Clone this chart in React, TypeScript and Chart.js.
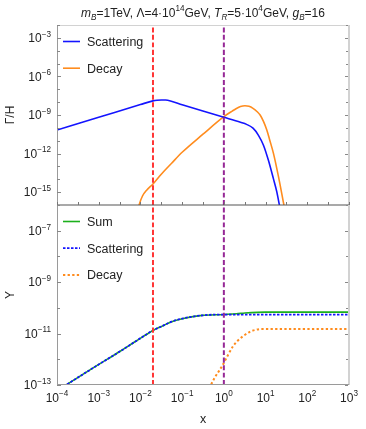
import React, { useEffect, useRef } from 'react';
import { Chart, registerables } from 'chart.js';

Chart.register(...registerables);

const FONT = '"Liberation Sans", Arial, Helvetica, sans-serif';

const BLUE = '#1414ff';
const ORANGE = '#ff8c1e';
const GREEN = '#1cb01c';
const RED = '#ff3535';
const PURPLE = '#962896';

// axis ranges
const X_MIN = 1e-4;
const X_MAX = 1e3;
const TOP_Y_MIN = 1e-16;
const TOP_Y_MAX = 1e-2;
const BOT_Y_MIN = 1e-13;
const BOT_Y_MAX = 1e-6;

// tick labels (decade exponents)
const xLabelExps = [-4, -3, -2, -1, 0, 1, 2, 3];
const topYLabelExps = [-15, -12, -9, -6, -3];
const botYLabelExps = [-13, -11, -9, -7];

// vertical marker positions
const markerRedX = 0.02;
const markerPurpleX = 1;

// Top panel: Γ/H, scattering
const rateScatterX = [1e-4, 1e-3, 1e-2, 0.02, 0.025, 0.032, 0.04, 0.05, 0.1, 0.3, 1, 2.5, 3.5, 5, 6.7, 8.9, 11.7, 15.4, 18.6, 21.4, 22.5];
const rateScatterY = [6.8e-11, 6.6e-10, 6.5e-9, 1.26e-8, 1.41e-8, 1.48e-8, 1.45e-8, 1.3e-8, 6.3e-9, 2.1e-9, 6.6e-10, 2.7e-10, 1.86e-10, 9.5e-11, 2.75e-11, 4.5e-12, 3.0e-13, 1.12e-14, 1.05e-15, 1e-16, 4e-17];

// Top panel: Γ/H, decay
const rateDecayX = [0.0089, 0.0093, 0.0112, 0.0141, 0.02, 0.0316, 0.056, 0.1, 0.316, 1, 1.58, 2.0, 2.5, 3.2, 4.0, 5.0, 6.3, 7.4, 8.9, 10.7, 12.6, 15.5, 20.4, 27.5, 29];
const rateDecayY = [5e-17, 1e-16, 5e-16, 1.41e-15, 4.3e-15, 2.5e-14, 1.78e-13, 1.26e-12, 3.2e-11, 7.4e-10, 2.0e-9, 3.2e-9, 4.5e-9, 5.2e-9, 4.7e-9, 3.3e-9, 1.8e-9, 1e-9, 3.2e-10, 6.8e-11, 1.1e-11, 1e-12, 1.6e-14, 1e-16, 4e-17];

// Bottom panel: Y
const yieldScatterX = [1e-4, 1e-3, 3.2e-3, 7.4e-3, 0.02, 0.032, 0.056, 0.1, 0.27, 1, 10, 1000];
const yieldScatterY = [6.0e-14, 6.3e-13, 2.0e-12, 4.8e-12, 1.32e-11, 1.9e-11, 2.9e-11, 3.8e-11, 5.0e-11, 5.5e-11, 5.5e-11, 5.5e-11];

const yieldSumX = [1e-4, 1e-3, 3.2e-3, 7.4e-3, 0.02, 0.032, 0.056, 0.1, 0.27, 1, 2, 3.2, 6.3, 10, 1000];
const yieldSumY = [6.0e-14, 6.3e-13, 2.0e-12, 4.8e-12, 1.32e-11, 1.9e-11, 2.9e-11, 3.8e-11, 5.0e-11, 5.55e-11, 5.9e-11, 6.3e-11, 6.7e-11, 6.8e-11, 6.8e-11];

const yieldDecayX = [0.4, 0.49, 0.6, 0.79, 1, 1.26, 1.66, 2.24, 2.9, 4.2, 5.6, 7.9, 1000];
const yieldDecayY = [5e-14, 1e-13, 1.9e-13, 3.8e-13, 7.2e-13, 1.48e-12, 3.2e-12, 5.6e-12, 7.9e-12, 1.17e-11, 1.38e-11, 1.5e-11, 1.5e-11];

type Seg = { t: string; i?: boolean; s?: 'sub' | 'sup' };

function segFont(seg: Seg, base: number) {
  const size = seg.s ? base * 0.68 : base;
  return `${seg.i ? 'italic ' : ''}${size}px ${FONT}`;
}

function drawRich(ctx: CanvasRenderingContext2D, segs: Seg[], x: number, y: number, base: number, align: 'left' | 'center' | 'right') {
  let w = 0;
  for (const s of segs) {
    ctx.font = segFont(s, base);
    w += ctx.measureText(s.t).width;
  }
  let cx = align === 'center' ? x - w / 2 : align === 'right' ? x - w : x;
  ctx.textAlign = 'left';
  ctx.textBaseline = 'alphabetic';
  for (const s of segs) {
    ctx.font = segFont(s, base);
    const dy = s.s === 'sup' ? -base * 0.45 : s.s === 'sub' ? base * 0.25 : 0;
    ctx.fillText(s.t, cx, y + dy);
    cx += ctx.measureText(s.t).width;
  }
}

function expLabel(e: number): Seg[] {
  return [{ t: '10' }, { t: (e < 0 ? '\u2212' : '') + Math.abs(e), s: 'sup' }];
}

const titleSegs: Seg[] = [
  { t: 'm', i: true }, { t: 'B', i: true, s: 'sub' }, { t: '=1TeV, \u039B=4\u00B710' }, { t: '14', s: 'sup' },
  { t: 'GeV, ' }, { t: 'T', i: true }, { t: 'R', i: true, s: 'sub' }, { t: '=5\u00B710' }, { t: '4', s: 'sup' },
  { t: 'GeV, ' }, { t: 'g', i: true }, { t: 'B', i: true, s: 'sub' }, { t: '=16' },
];

type LegendEntry = { label: string; color: string; dash: number[]; width: number };

const topLegend: LegendEntry[] = [
  { label: 'Scattering', color: BLUE, dash: [], width: 1.6 },
  { label: 'Decay', color: ORANGE, dash: [], width: 1.6 },
];
const botLegend: LegendEntry[] = [
  { label: 'Sum', color: GREEN, dash: [], width: 1.6 },
  { label: 'Scattering', color: BLUE, dash: [2.5, 1.5], width: 1.8 },
  { label: 'Decay', color: ORANGE, dash: [2.3, 2.3], width: 2 },
];

function zip(xs: number[], ys: number[]) {
  return xs.map((x, i) => ({ x, y: ys[i] }));
}

function makeDecor(panel: 'top' | 'bottom') {
  return {
    id: 'decor_' + panel,
    afterDraw(chart: any) {
      const ctx: CanvasRenderingContext2D = chart.ctx;
      const { left, right, top, bottom } = chart.chartArea;
      const xs = chart.scales.x;
      const ys = chart.scales.y;
      const yMinExp = panel === 'top' ? -16 : -13;
      const yMaxExp = panel === 'top' ? -2 : -6;
      const labelExps = panel === 'top' ? topYLabelExps : botYLabelExps;
      ctx.save();

      // frame
      ctx.lineWidth = 1;
      ctx.strokeStyle = '#9a9a9a';
      ctx.beginPath();
      ctx.moveTo(left + 0.5, top);
      ctx.lineTo(left + 0.5, bottom);
      ctx.stroke();
      ctx.strokeStyle = '#d2d2d2';
      ctx.lineWidth = 2;
      ctx.beginPath();
      ctx.moveTo(right, top);
      ctx.lineTo(right, bottom);
      ctx.stroke();
      if (panel === 'top') {
        ctx.strokeStyle = '#d2d2d2';
        ctx.lineWidth = 1;
        ctx.beginPath();
        ctx.moveTo(left, top + 0.5);
        ctx.lineTo(right, top + 0.5);
        ctx.stroke();
        ctx.strokeStyle = '#555555';
        ctx.lineWidth = 1.2;
        ctx.beginPath();
        ctx.moveTo(left, bottom);
        ctx.lineTo(right, bottom);
        ctx.stroke();
        // x ticks on the middle line, every half decade
        ctx.strokeStyle = '#777777';
        ctx.lineWidth = 1;
        for (let k = -8; k <= 6; k++) {
          const px = Math.round(xs.getPixelForValue(Math.pow(10, k / 2))) + 0.5;
          ctx.beginPath();
          ctx.moveTo(px, bottom);
          ctx.lineTo(px, bottom - 3);
          ctx.stroke();
        }
      } else {
        ctx.strokeStyle = '#9a9a9a';
        ctx.lineWidth = 1;
        ctx.beginPath();
        ctx.moveTo(left, bottom - 0.5);
        ctx.lineTo(right, bottom - 0.5);
        ctx.stroke();
      }

      // y ticks
      ctx.strokeStyle = '#888888';
      ctx.lineWidth = 1;
      for (let e = yMinExp; e <= yMaxExp; e++) {
        const py = Math.round(ys.getPixelForValue(Math.pow(10, e))) + 0.5;
        const major = labelExps.indexOf(e) >= 0;
        ctx.beginPath();
        ctx.moveTo(left, py);
        ctx.lineTo(left + (major ? 4 : 3), py);
        ctx.moveTo(right - 1, py);
        ctx.lineTo(right - 1 - (major ? 3 : 2), py);
        ctx.stroke();
      }

      // y tick labels
      ctx.fillStyle = '#222222';
      for (const e of labelExps) {
        const py = ys.getPixelForValue(Math.pow(10, e));
        drawRich(ctx, expLabel(e), left - 6, py + 4.3, 12, 'right');
      }

      // y axis title
      ctx.save();
      ctx.translate(11, (top + bottom) / 2);
      ctx.rotate(-Math.PI / 2);
      ctx.font = `12px ${FONT}`;
      ctx.textAlign = 'center';
      ctx.textBaseline = 'middle';
      ctx.fillText(panel === 'top' ? '\u0393/H' : 'Y', 0, 0);
      ctx.restore();

      if (panel === 'top') {
        drawRich(ctx, titleSegs, (left + right) / 2, 16.7, 12, 'center');
      } else {
        for (const e of xLabelExps) {
          const px = xs.getPixelForValue(Math.pow(10, e));
          drawRich(ctx, expLabel(e), px, bottom + 16.7, 12, 'center');
        }
        ctx.font = `12.5px ${FONT}`;
        ctx.textAlign = 'center';
        ctx.textBaseline = 'alphabetic';
        ctx.fillText('x', (left + right) / 2, bottom + 38);
      }

      // legend
      const entries = panel === 'top' ? topLegend : botLegend;
      entries.forEach((en, i) => {
        const ly = top + 16.5 + i * 26.7;
        ctx.strokeStyle = en.color;
        ctx.lineWidth = en.width;
        ctx.setLineDash(en.dash);
        ctx.beginPath();
        ctx.moveTo(left + 6, ly);
        ctx.lineTo(left + 23, ly);
        ctx.stroke();
        ctx.setLineDash([]);
        ctx.fillStyle = '#222222';
        ctx.font = `12.5px ${FONT}`;
        ctx.textAlign = 'left';
        ctx.textBaseline = 'alphabetic';
        ctx.fillText(en.label, left + 30, ly + 4.5);
      });

      ctx.restore();
    },
  };
}

function baseOptions(yMin: number, yMax: number, padding: any) {
  return {
    responsive: false,
    animation: false as const,
    devicePixelRatio: 1,
    layout: { padding },
    plugins: { legend: { display: false }, tooltip: { enabled: false }, title: { display: false } },
    elements: { point: { radius: 0 }, line: { cubicInterpolationMode: 'monotone' as const } },
    scales: {
      x: { type: 'logarithmic' as const, min: X_MIN, max: X_MAX, display: false },
      y: { type: 'logarithmic' as const, min: yMin, max: yMax, display: false },
    },
  };
}

function vline(x: number, yMin: number, yMax: number, color: string) {
  return {
    data: [{ x, y: yMin }, { x, y: yMax }],
    borderColor: color,
    borderWidth: 2,
    borderDash: [5, 2.5],
    pointRadius: 0,
    fill: false,
    clip: 0,
  };
}

export default function App() {
  const topRef = useRef<HTMLCanvasElement>(null);
  const botRef = useRef<HTMLCanvasElement>(null);

  useEffect(() => {
    const topChart = new Chart(topRef.current as HTMLCanvasElement, {
      type: 'line',
      data: {
        datasets: [
          vline(markerRedX, TOP_Y_MIN, TOP_Y_MAX, RED),
          vline(markerPurpleX, TOP_Y_MIN, TOP_Y_MAX, PURPLE),
          { label: 'Scattering', data: zip(rateScatterX, rateScatterY), borderColor: BLUE, borderWidth: 1.6, pointRadius: 0, fill: false, clip: 0 },
          { label: 'Decay', data: zip(rateDecayX, rateDecayY), borderColor: ORANGE, borderWidth: 1.6, pointRadius: 0, fill: false, clip: 0 },
        ],
      } as any,
      options: baseOptions(TOP_Y_MIN, TOP_Y_MAX, { left: 57, right: 17, top: 25, bottom: 10 }) as any,
      plugins: [makeDecor('top')],
    });
    const botChart = new Chart(botRef.current as HTMLCanvasElement, {
      type: 'line',
      data: {
        datasets: [
          vline(markerRedX, BOT_Y_MIN, BOT_Y_MAX, RED),
          vline(markerPurpleX, BOT_Y_MIN, BOT_Y_MAX, PURPLE),
          { label: 'Scattering', data: zip(yieldScatterX, yieldScatterY), borderColor: BLUE, borderWidth: 1.8, borderDash: [2.5, 1.5], pointRadius: 0, fill: false, clip: 0 },
          { label: 'Sum', data: zip(yieldSumX, yieldSumY), borderColor: GREEN, borderWidth: 1.6, pointRadius: 0, fill: false, clip: 0 },
          { label: 'Decay', data: zip(yieldDecayX, yieldDecayY), borderColor: ORANGE, borderWidth: 2, borderDash: [2.3, 2.3], pointRadius: 0, fill: false, clip: 0 },
        ],
      } as any,
      options: baseOptions(BOT_Y_MIN, BOT_Y_MAX, { left: 57, right: 17, top: 10, bottom: 44 }) as any,
      plugins: [makeDecor('bottom')],
    });
    return () => {
      topChart.destroy();
      botChart.destroy();
    };
  }, []);

  return (
    <div style={{ position: 'absolute', left: 0, top: 0, width: 366, height: 429, background: '#ffffff' }}>
      <canvas ref={topRef} width={366} height={215} style={{ position: 'absolute', left: 0, top: 0, width: 366, height: 215 }} />
      <canvas ref={botRef} width={366} height={234} style={{ position: 'absolute', left: 0, top: 195, width: 366, height: 234 }} />
    </div>
  );
}
